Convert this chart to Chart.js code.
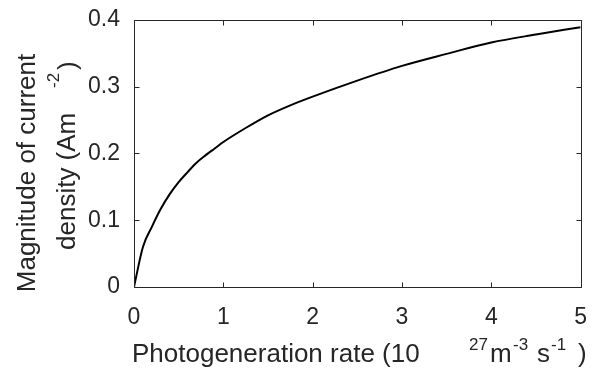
<!DOCTYPE html>
<html>
<head>
<meta charset="utf-8">
<script src="https://cdn.jsdelivr.net/npm/chart.js@4/dist/chart.umd.min.js"></script>
<style>
  body { margin: 0; background: #fff; }
  #wrap { width: 596px; height: 371px; }
</style>
</head>
<body>
<div id="wrap"><canvas id="chart" width="596" height="371"></canvas></div>
<script>
// photogeneration rate (1e27 m^-3 s^-1)
const rates = [0, 0.1, 0.2, 0.3, 0.4, 0.5, 0.6, 0.7, 0.8, 0.9, 1.0, 1.25, 1.5, 1.75, 2.0, 2.5, 3.0, 3.5, 4.0, 4.5, 5.0];
// magnitude of current density (A m^-2)
const currents = [0, 0.060, 0.090, 0.117, 0.139, 0.157, 0.172, 0.186, 0.197, 0.207, 0.217, 0.238, 0.257, 0.272, 0.285, 0.309, 0.331, 0.349, 0.366, 0.378, 0.389];
const xTicks = [0, 1, 2, 3, 4, 5];
const yTicks = [0, 0.1, 0.2, 0.3, 0.4];

const ink = '#262626';
const fontFamily = '"Liberation Sans", Arial, Helvetica, sans-serif';

// draws the box, inward ticks and the axis titles with superscripts
const frame = {
    id: 'frame',
    afterDraw(chart) {
        const { ctx, chartArea: a, scales: { x, y } } = chart;
        ctx.save();
        ctx.strokeStyle = ink;
        ctx.lineWidth = 1;
        const L = Math.round(a.left) + 0.5, R = Math.round(a.right) + 0.5;
        const T = Math.round(a.top) + 0.5, B = Math.round(a.bottom) + 0.5;
        ctx.beginPath();
        ctx.rect(L, T, R - L, B - T);
        xTicks.forEach(v => {
            const px = Math.round(x.getPixelForValue(v)) + 0.5;
            ctx.moveTo(px, B); ctx.lineTo(px, B - 5);
            ctx.moveTo(px, T); ctx.lineTo(px, T + 5);
        });
        yTicks.forEach(v => {
            const py = Math.round(y.getPixelForValue(v)) + 0.5;
            ctx.moveTo(L, py); ctx.lineTo(L + 5, py);
            ctx.moveTo(R, py); ctx.lineTo(R - 5, py);
        });
        ctx.stroke();

        ctx.fillStyle = ink;
        ctx.textAlign = 'left';
        ctx.textBaseline = 'alphabetic';
        const big = '26px ' + fontFamily, small = '17px ' + fontFamily;
        const parts = [
            ['Photogeneration rate (10', 132, 0, big],
            ['27', 469, -12, small],
            ['m', 490, 0, big],
            ['-3', 513, -12, small],
            ['s', 537, 0, big],
            ['-1', 551, -12, small],
            [')', 578, 0, big]
        ];
        parts.forEach(([t, px, dy, f]) => {
            ctx.font = f;
            ctx.fillText(t, px, 362 + dy);
        });

        ctx.rotate(-Math.PI / 2);
        // rotated frame: local x = -screenY, local y = screenX
        ctx.font = big;
        ctx.textAlign = 'center';
        ctx.fillText('Magnitude of current', -173, 35);
        ctx.textAlign = 'left';
        ctx.fillText('density (Am', -250, 75);
        ctx.font = small;
        ctx.fillText('-2', -88, 59);
        ctx.font = big;
        ctx.fillText(')', -70, 76);
        ctx.restore();
    }
};

new Chart(document.getElementById('chart'), {
    type: 'line',
    data: {
        datasets: [{
            data: rates.map((r, i) => ({ x: r, y: currents[i] })),
            borderColor: '#000',
            borderWidth: 2,
            pointRadius: 0,
            cubicInterpolationMode: 'monotone',
            fill: false
        }]
    },
    options: {
        responsive: false,
        animation: false,
        layout: { padding: { top: 19, right: 8, left: 0, bottom: 0 } },
        plugins: { legend: { display: false }, tooltip: { enabled: false } },
        scales: {
            x: {
                type: 'linear',
                min: 0,
                max: 5,
                afterBuildTicks: s => { s.ticks = xTicks.map(v => ({ value: v })); },
                afterFit: s => { s.height = 84; },
                grid: { display: false },
                border: { display: false },
                ticks: { color: ink, font: { family: fontFamily, size: 23 }, padding: 9, maxRotation: 0 }
            },
            y: {
                min: 0,
                max: 0.4,
                afterBuildTicks: s => { s.ticks = yTicks.map(v => ({ value: v })); },
                afterFit: s => { s.width = 134; },
                grid: { display: false },
                border: { display: false },
                ticks: { color: ink, font: { family: fontFamily, size: 23 }, padding: 6 }
            }
        }
    },
    plugins: [frame]
});
</script>
</body>
</html>
